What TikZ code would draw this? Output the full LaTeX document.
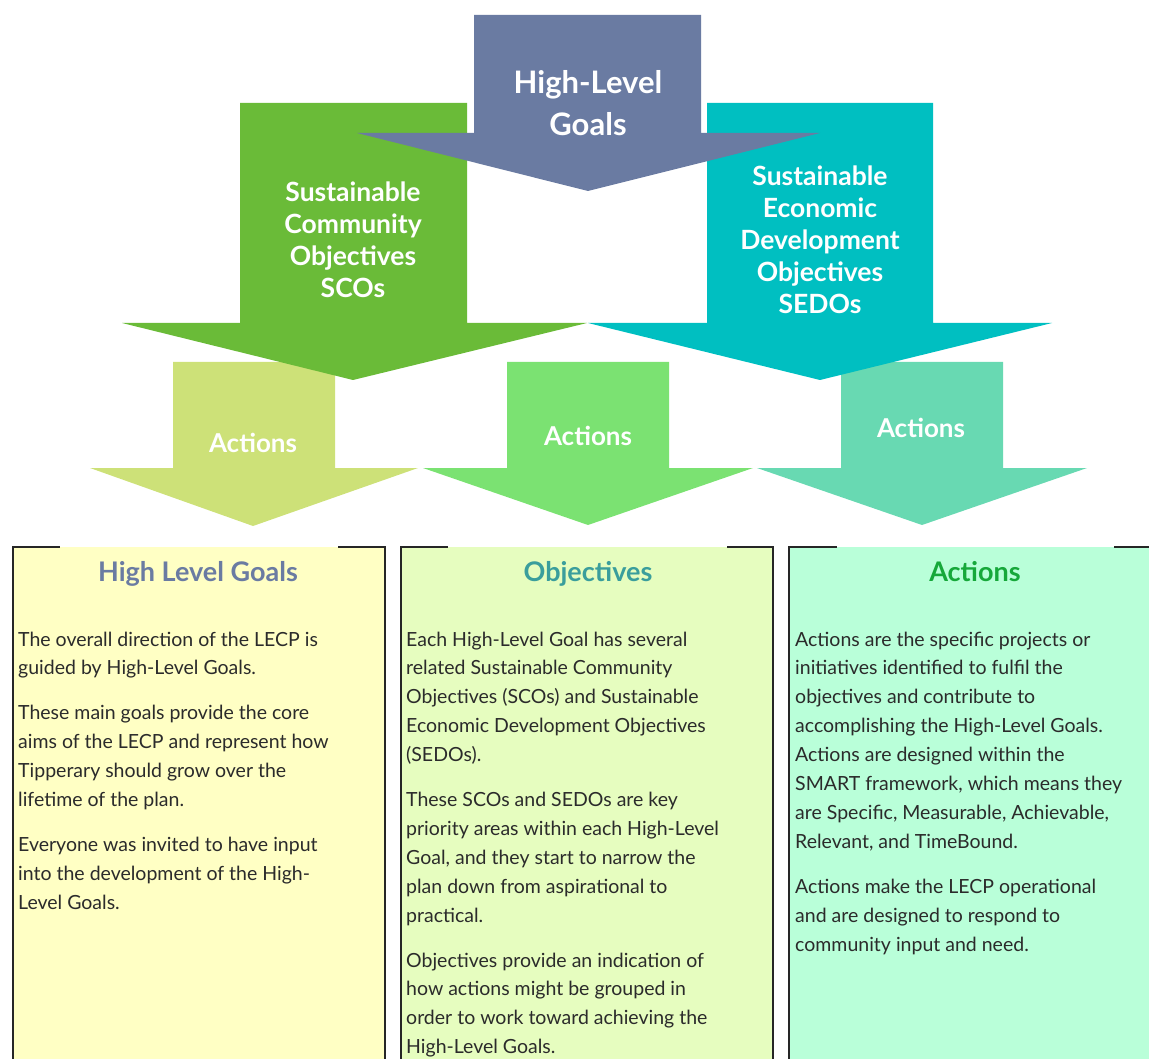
\documentclass[tikz,border=0pt]{standalone}
\usepackage{fontspec}
\setmainfont{Lato}
\usepackage{xcolor}
\usetikzlibrary{positioning}

\definecolor{goalblue}{HTML}{6A7BA2}
\definecolor{scogreen}{HTML}{6ABB38}
\definecolor{sedoteal}{HTML}{00BFC1}
\definecolor{actlime}{HTML}{CDE178}
\definecolor{actgreen}{HTML}{7BE272}
\definecolor{actmint}{HTML}{68D9B2}
\definecolor{paneyellow}{HTML}{FFFFC4}
\definecolor{panelime}{HTML}{E6FDBF}
\definecolor{panemint}{HTML}{B9FFD9}
\definecolor{objteal}{HTML}{3A9E9C}
\definecolor{actdark}{HTML}{16A83A}
\definecolor{bodygray}{HTML}{2B2B2B}

\begin{document}
\begin{tikzpicture}[
    x=1pt, y=-1pt,
    arrowlbl/.style ={text=white, align=center, inner sep=0pt,
                      font=\fontsize{26.5}{32}\selectfont\bfseries},
    actlbl/.style   ={text=white, inner sep=0pt, anchor=base,
                      font=\fontsize{26}{30}\selectfont\bfseries},
    panetitle/.style={inner sep=0pt, anchor=base,
                      font=\fontsize{27}{30}\selectfont\bfseries},
    panetext/.style ={inner sep=0pt, anchor=north west, align=left,
                      text=bodygray, font=\fontsize{19.5}{28.9}\selectfont},
    rim/.style      ={draw=black!85, line width=2.4pt}
]
\clip (0,0) rectangle (1149,1059);

% --- Three "Actions" arrows on the lower row (drawn first, the big arrows overlap them). ---
\fill[actlime]  (173,362) -- (335,362) -- (335,468) -- (418,468) -- (253,526)
                -- (90,468) -- (173,468) -- cycle;
\fill[actgreen] (507,362) -- (669,362) -- (669,468) -- (753,468) -- (588,525)
                -- (423,468) -- (507,468) -- cycle;
\fill[actmint]  (841,362) -- (1003,362) -- (1003,468) -- (1087,468) -- (922,525)
                -- (757,468) -- (841,468) -- cycle;

% --- SCO and SEDO arrows. ---
\fill[scogreen] (240,103) -- (467,103) -- (467,323) -- (587,323) -- (353,380)
                -- (122,323) -- (240,323) -- cycle;
\fill[sedoteal] (707,103) -- (933,103) -- (933,323) -- (1052,323) -- (820,380)
                -- (588,323) -- (707,323) -- cycle;

% --- High-Level Goals arrow on top. ---
\fill[goalblue] (474,15) -- (701,15) -- (701,133) -- (820,133) -- (588,191)
                -- (357,133) -- (474,133) -- cycle;

% --- Arrow labels. ---
\node[arrowlbl, font=\fontsize{31}{42}\selectfont\bfseries] (hlg) at (588,103) {High-Level\\Goals};
\node[arrowlbl] (sco)  at (353,240) {Sustainable\\Community\\Objectives\\SCOs};
\node[arrowlbl] (sedo) at (820,240) {Sustainable\\Economic\\Development\\Objectives\\SEDOs};
\node[actlbl] (act1) at (253,452) {Actions};
\node[actlbl] (act2) at (588,445) {Actions};
\node[actlbl] (act3) at (921,437) {Actions};

% --- Panels: filled, side rims, top rim only at the corners. ---
\fill[paneyellow] (13,547)  rectangle (385,1070);
\fill[panelime]   (401,547) rectangle (773,1070);
\fill[panemint]   (789,547) rectangle (1162,1070);
\draw[rim] (13,1070)  -- (13,547)  -- (60,547);
\draw[rim] (338,547)  -- (385,547) -- (385,1070);
\draw[rim] (401,1070) -- (401,547) -- (448,547);
\draw[rim] (727,547)  -- (773,547) -- (773,1070);
\draw[rim] (789,1070) -- (789,547) -- (837,547);
\draw[rim] (1114,547) -- (1162,547) -- (1162,1070);

% --- Panel titles. ---
\node[panetitle, text=goalblue] (goaltitle) at (198,581) {High Level Goals};
\node[panetitle, text=objteal]  (objtitle)  at (588,581) {Objectives};
\node[panetitle, text=actdark]  (acttitle)  at (975,581) {Actions};

% --- Panel texts. ---
\node[panetext] (goaltext) at (18,631.5)
  {The overall direction of the LECP is\\
   guided by High-Level Goals.\\[16pt]
   These main goals provide the core\\
   aims of the LECP and represent how\\
   Tipperary should grow over the\\
   lifetime of the plan.\\[16pt]
   Everyone was invited to have input\\
   into the development of the High-\\
   Level Goals.};
\node[panetext] (objtext) at (406,631.5)
  {Each High-Level Goal has several\\
   related Sustainable Community\\
   Objectives (SCOs) and Sustainable\\
   Economic Development Objectives\\
   (SEDOs).\\[16pt]
   These SCOs and SEDOs are key\\
   priority areas within each High-Level\\
   Goal, and they start to narrow the\\
   plan down from aspirational to\\
   practical.\\[16pt]
   Objectives provide an indication of\\
   how actions might be grouped in\\
   order to work toward achieving the\\
   High-Level Goals.};
\node[panetext] (acttext) at (795,631.5)
  {Actions are the specific projects or\\
   initiatives identified to fulfil the\\
   objectives and contribute to\\
   accomplishing the High-Level Goals.\\
   Actions are designed within the\\
   SMART framework, which means they\\
   are Specific, Measurable, Achievable,\\
   Relevant, and TimeBound.\\[16pt]
   Actions make the LECP operational\\
   and are designed to respond to\\
   community input and need.};

\end{tikzpicture}
\end{document}
